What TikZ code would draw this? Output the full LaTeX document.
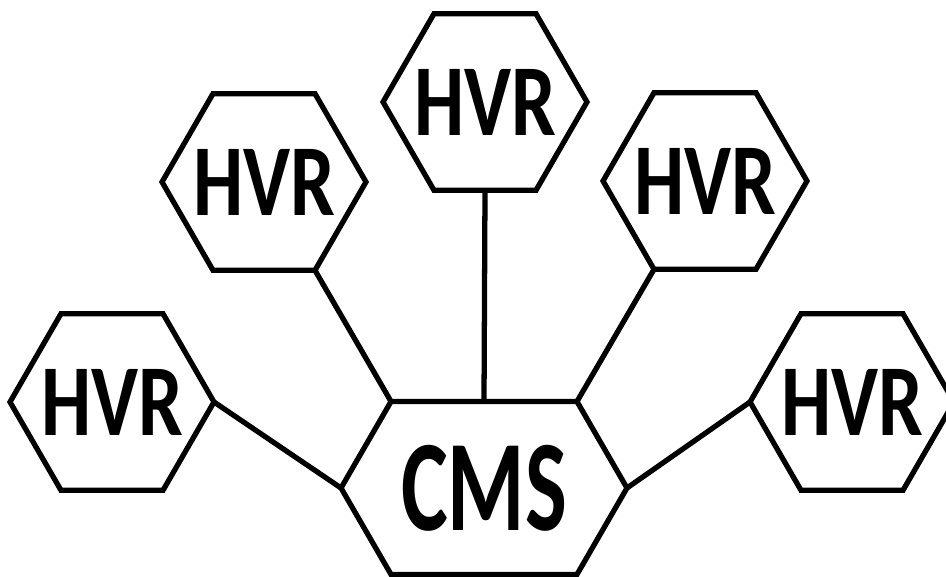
\documentclass[tikz,border=0pt]{standalone}
\usepackage{fontspec}
\newfontfamily\hvrfont{Carlito}[FakeStretch=0.78]
\newfontfamily\cmsfont{Carlito}[FakeStretch=0.68]
\usetikzlibrary{shapes.geometric,calc}

\begin{document}
\begin{tikzpicture}[x=0.02cm,y=-0.02cm,
    line width=3pt,
    hvr/.style={regular polygon,regular polygon sides=6,draw=black,
                minimum size=4.08cm,inner sep=0pt,outer sep=0pt,
                font=\hvrfont\bfseries\fontsize{58}{60}\selectfont},
    cmsbox/.style={rectangle,minimum width=3.72cm,minimum height=3.46cm,
                   inner sep=0pt,outer sep=0pt,
                   font=\cmsfont\bfseries\fontsize{74}{76}\selectfont},
    link/.style={draw=black,line width=3pt}]

  \useasboundingbox (0,0) rectangle (946,577);

  % centre hexagon
  \node[cmsbox] (cms) at (484,488) {CMS};
  \coordinate (cmsW) at ($(cms.west)+(-50,0)$);
  \coordinate (cmsE) at ($(cms.east)+(50,0)$);
  \draw (cms.north west) -- (cms.north east) -- (cmsE) -- (cms.south east)
        -- (cms.south west) -- (cmsW) -- cycle;

  % outer hexagons
  \node[hvr] (hvrT)  at (485,102) {\makebox[0pt]{HVR}};
  \node[hvr] (hvrUL) at (264,182) {\makebox[0pt]{HVR}};
  \node[hvr] (hvrUR) at (705,181) {\makebox[0pt]{HVR}};
  \node[hvr] (hvrLL) at (112,402) {\makebox[0pt]{HVR}};
  \node[hvr] (hvrLR) at (852,402) {\makebox[0pt]{HVR}};

  % links
  \draw[link] (hvrLL.east) -- (cmsW);
  \draw[link] (hvrUL.-60) -- (cms.north west);
  \draw[link] (hvrT.south) -- (cms.north);
  \draw[link] (hvrUR.-120) -- (cms.north east);
  \draw[link] (hvrLR.west) -- (cmsE);
\end{tikzpicture}
\end{document}
